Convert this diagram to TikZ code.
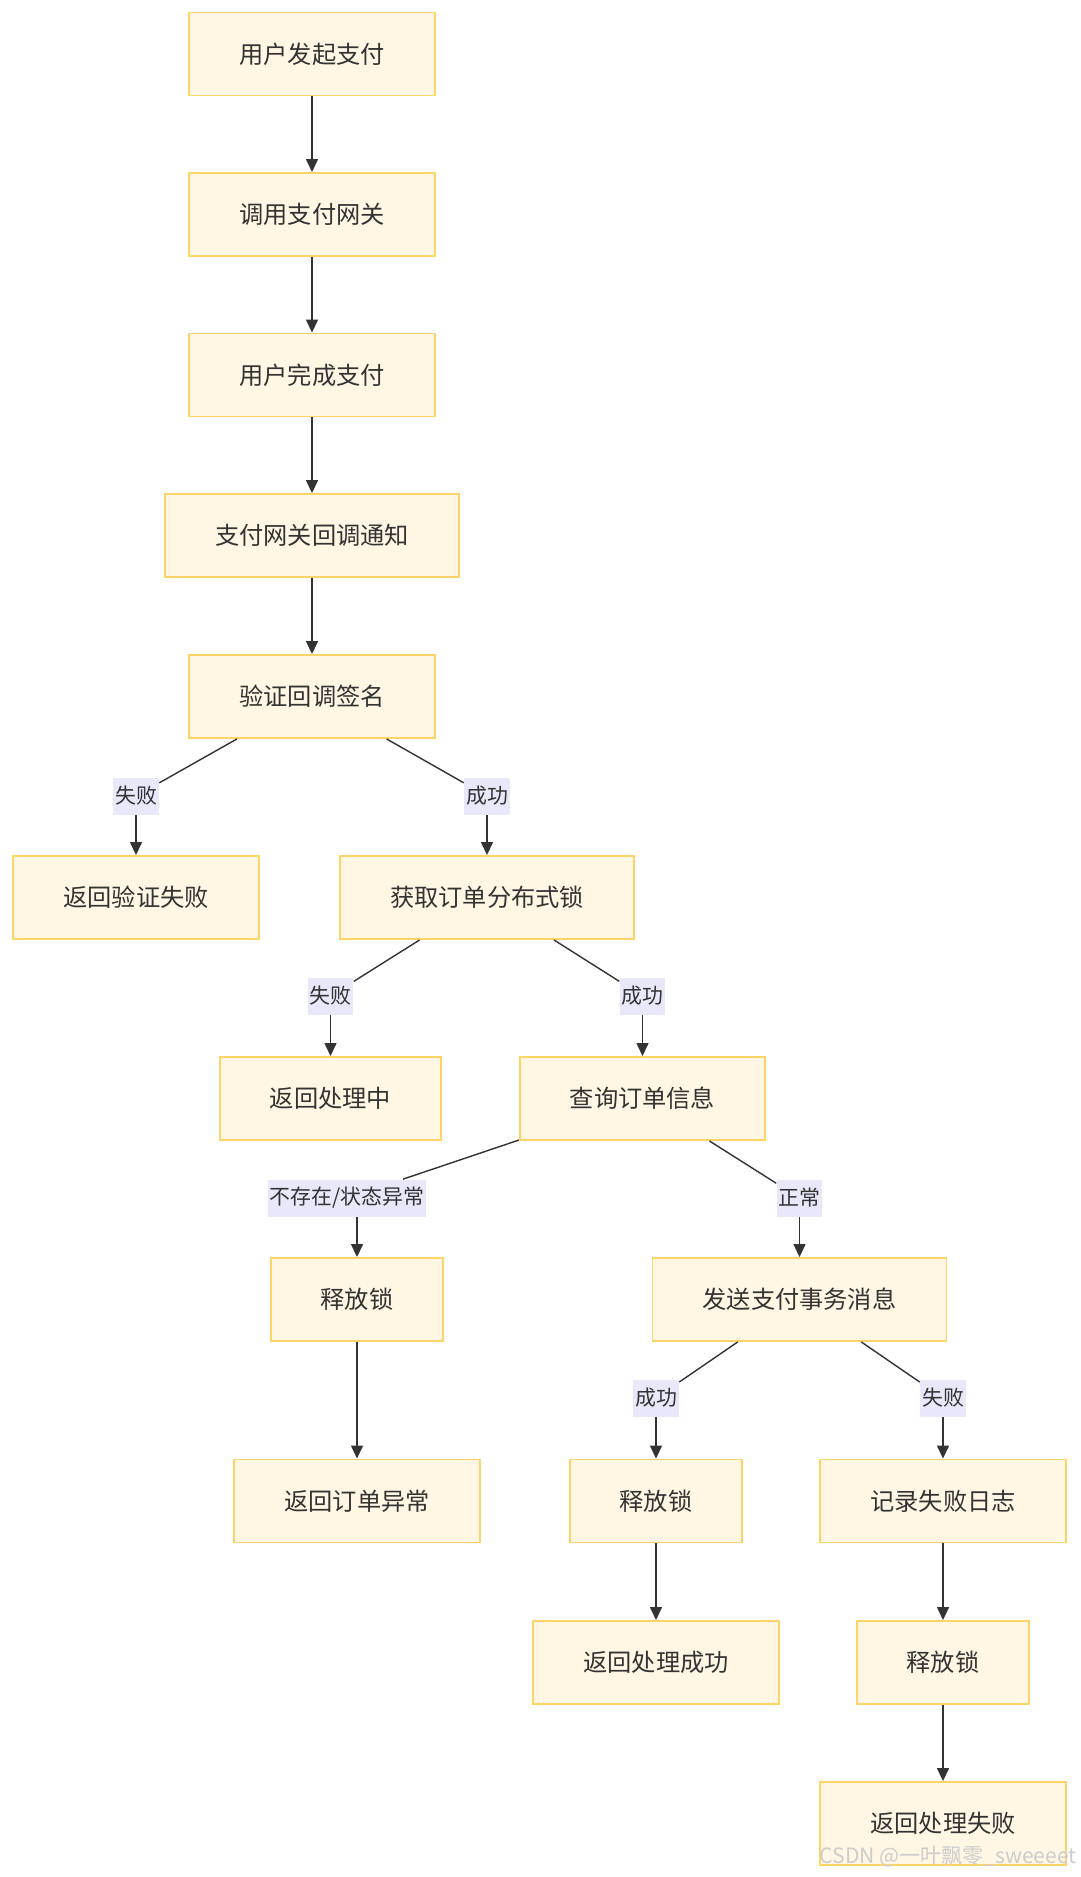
\documentclass[tikz,border=0pt]{standalone}
\usepackage{fontspec}
\setmainfont{Noto Sans CJK SC}
\usetikzlibrary{arrows.meta}
\definecolor{boxfill}{HTML}{FFF7E3}
\definecolor{boxline}{HTML}{FFD466}
\definecolor{tagfill}{HTML}{E8E8FA}
\definecolor{ink}{HTML}{333333}
\tikzset{
  flowbox/.style={
    rectangle,
    fill=boxfill,
    draw=boxline,
    line width=1.1pt,
    text=ink,
    font=\fontsize{13.8pt}{16pt}\selectfont,
    inner xsep=1.0cm,
    minimum height=1.66cm
  },
  edge tag/.style={
    rectangle,
    fill=tagfill,
    text=ink,
    font=\fontsize{11.9pt}{14pt}\selectfont,
    inner xsep=0.04cm,
    inner ysep=0pt,
    minimum height=0.74cm
  },
  link/.style={
    draw=ink,
    line width=0.8pt
  },
  flow/.style={
    link,
    -{Triangle[length=0.26cm, width=0.24cm]}
  },
  watermark/.style={
    text=gray!40,
    font=\fontsize{12pt}{14pt}\selectfont,
    inner sep=0pt
  }
}

\begin{document}
\begin{tikzpicture}[x=0.02cm, y=-0.02cm]
    % 画布大小 1080 x 1877 (单位: 像素)
    \useasboundingbox (0,0) rectangle (1080,1877);

    % 主流程
    \node[flowbox] (start)    at (312,54)    {用户发起支付};
    \node[flowbox] (gateway)  at (312,214.5) {调用支付网关};
    \node[flowbox] (paydone)  at (312,375)   {用户完成支付};
    \node[flowbox] (notify)   at (312,535.5) {支付网关回调通知};
    \node[flowbox] (verify)   at (312,696.5) {验证回调签名};

    % 验签分支
    \node[flowbox] (verifyfail) at (136,897.5) {返回验证失败};
    \node[flowbox] (lock)       at (487,897.5) {获取订单分布式锁};

    % 加锁分支
    \node[flowbox] (processing) at (330.5,1098.5) {返回处理中};
    \node[flowbox] (query)      at (642.5,1098.5) {查询订单信息};

    % 订单状态分支
    \node[flowbox] (unlockA)  at (357,1299.5)   {释放锁};
    \node[flowbox] (sendmsg)  at (799.5,1299.5) {发送支付事务消息};
    \node[flowbox] (ordererr) at (357,1501)     {返回订单异常};

    % 事务消息分支
    \node[flowbox] (unlockB)  at (656,1501)     {释放锁};
    \node[flowbox] (faillog)  at (943,1501)     {记录失败日志};
    \node[flowbox] (success)  at (656,1662.5)   {返回处理成功};
    \node[flowbox] (unlockC)  at (943,1662.5)   {释放锁};
    \node[flowbox] (failret)  at (943,1823.5)   {返回处理失败};

    % 连线标签
    \node[edge tag] (tagVfail) at (136,796)    {失败};
    \node[edge tag] (tagVok)   at (487,796)    {成功};
    \node[edge tag] (tagLfail) at (330.5,996)  {失败};
    \node[edge tag] (tagLok)   at (642.5,996)  {成功};
    \node[edge tag] (tagQerr)  at (347,1198)   {不存在/状态异常};
    \node[edge tag] (tagQok)   at (799.5,1198) {正常};
    \node[edge tag] (tagSok)   at (656,1398)   {成功};
    \node[edge tag] (tagSfail) at (943,1398)   {失败};

    % 直线箭头
    \draw[flow] (start) -- (gateway);
    \draw[flow] (gateway) -- (paydone);
    \draw[flow] (paydone) -- (notify);
    \draw[flow] (notify) -- (verify);
    \draw[flow] (unlockA) -- (ordererr);
    \draw[flow] (unlockB) -- (success);
    \draw[flow] (faillog) -- (unlockC);
    \draw[flow] (unlockC) -- (failret);

    % 带标签的分支
    \draw[link] (verify) -- (tagVfail);
    \draw[flow] (tagVfail) -- (verifyfail);
    \draw[link] (verify) -- (tagVok);
    \draw[flow] (tagVok) -- (lock);
    \draw[link] (lock) -- (tagLfail);
    \draw[flow] (tagLfail) -- (processing);
    \draw[link] (lock) -- (tagLok);
    \draw[flow] (tagLok) -- (query);
    \draw[link] (query) -- (tagQerr);
    \draw[flow] (tagQerr.south -| unlockA) -- (unlockA);
    \draw[link] (query) -- (tagQok);
    \draw[flow] (tagQok) -- (sendmsg);
    \draw[link] (sendmsg) -- (tagSok);
    \draw[flow] (tagSok) -- (unlockB);
    \draw[link] (sendmsg) -- (tagSfail);
    \draw[flow] (tagSfail) -- (faillog);

    % 水印
    \node[watermark, anchor=east] (mark) at (1077,1857) {CSDN @一叶飘零\_sweeeet};
\end{tikzpicture}
\end{document}
